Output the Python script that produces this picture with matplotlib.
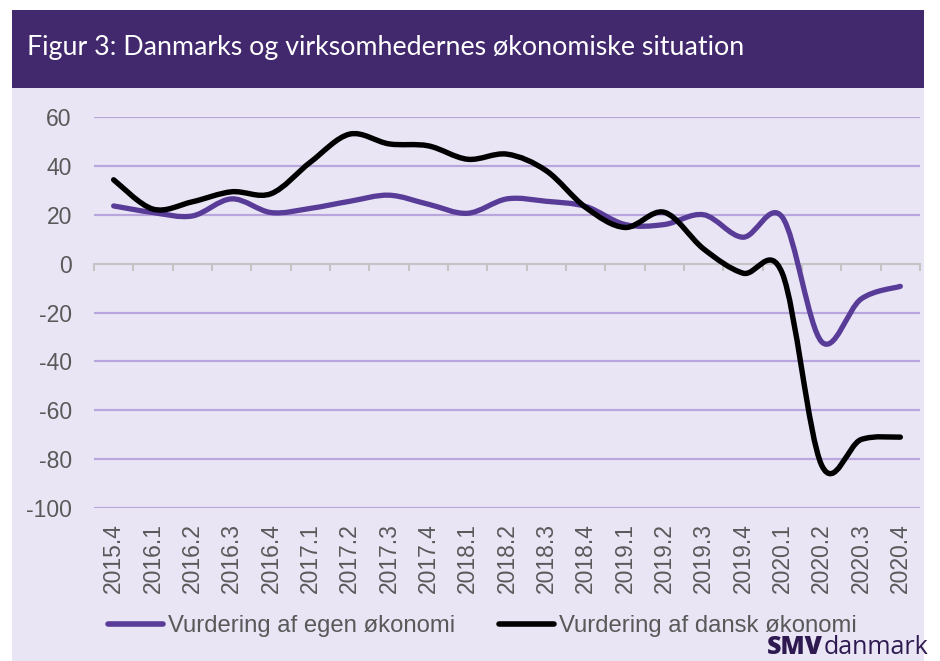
import matplotlib
matplotlib.use('Agg')
import matplotlib.pyplot as plt
from matplotlib.path import Path
from matplotlib.patches import PathPatch, Rectangle
from matplotlib.lines import Line2D
import numpy as np

# ---------------- data ----------------
quarters = ['2015.4', '2016.1', '2016.2', '2016.3', '2016.4', '2017.1', '2017.2',
            '2017.3', '2017.4', '2018.1', '2018.2', '2018.3', '2018.4', '2019.1',
            '2019.2', '2019.3', '2019.4', '2020.1', '2020.2', '2020.3', '2020.4']
egen = [23.6, 20.9, 19.5, 26.5, 20.9, 22.6, 25.5, 28.0, 24.3, 20.6, 26.5,
        25.5, 23.4, 16.0, 16.0, 20.0, 10.8, 19.0, -32.0, -14.5, -9.3]
dansk = [34.3, 22.3, 25.3, 29.4, 28.6, 41.5, 53.0, 49.0, 48.2, 42.7, 44.8,
         38.0, 23.0, 14.8, 21.0, 6.0, -3.9, -4.0, -82.5, -72.0, -71.0]
series_names = ['Vurdering af egen økonomi', 'Vurdering af dansk økonomi']
yticks = [60, 40, 20, 0, -20, -40, -60, -80, -100]
title = 'Figur 3: Danmarks og virksomhedernes økonomiske situation'

# ---------------- style ----------------
BG = '#E9E5F5'
TITLE_BG = '#42296E'
GRID = '#B9A6DD'
AXIS = '#C4C4C4'
TXT = '#595959'
PURPLE = '#583C98'
BLACK = '#000000'
LOGO = '#2E1A50'

plt.rcParams['font.family'] = ['Liberation Sans', 'DejaVu Sans']

W, H = 940, 661
fig = plt.figure(figsize=(W / 100, H / 100), dpi=100)
fig.patch.set_facecolor('white')


def fx(px):
    return px / W


def fy(py):
    return 1 - py / H


# panel + title bar
fig.patches.append(Rectangle((fx(12), fy(661)), fx(924) - fx(12), fy(88) - fy(661),
                             transform=fig.transFigure, facecolor=BG, edgecolor='none', zorder=-2))
fig.patches.append(Rectangle((fx(12), fy(88)), fx(924) - fx(12), fy(10) - fy(88),
                             transform=fig.transFigure, facecolor=TITLE_BG, edgecolor='none', zorder=-2))
fig.text(fx(27), fy(48), title, color='white', fontsize=19.3, family=['Lato', 'DejaVu Sans'],
         va='center', ha='left')

# axes
ax = fig.add_axes([fx(94), fy(508), fx(920) - fx(94), fy(117) - fy(508)])
ax.set_facecolor('none')
n = len(quarters)
ax.set_xlim(-0.5, n - 0.5)
ax.set_ylim(-100, 60)
for s in ax.spines.values():
    s.set_visible(False)
ax.spines['bottom'].set_visible(True)
ax.spines['bottom'].set_position(('data', 0))
ax.spines['bottom'].set_color(AXIS)
ax.spines['bottom'].set_linewidth(1.5)
ax.spines['bottom'].set_zorder(2)
ax.set_xticks(np.arange(n + 1) - 0.5)
ax.set_xticklabels([])
ax.tick_params(axis='x', direction='out', length=5, width=1.5, color=AXIS)
ax.set_yticks(yticks)
ax.set_yticklabels([str(v) for v in yticks])
ax.tick_params(axis='y', length=0, pad=16, labelsize=16.5, labelcolor=TXT)

for v in yticks:
    if v != 0:
        ax.axhline(v, color=GRID, lw=1.6, zorder=1)

for i, q in enumerate(quarters):
    ax.text(i, -0.038, q, transform=ax.get_xaxis_transform(), rotation=90,
            ha='center', va='top', fontsize=16.5, color=TXT)


def smooth_path(xs, ys):
    """Smoothed line (Catmull-Rom style cubic Bezier segments)."""
    pts = np.column_stack([xs, ys]).astype(float)
    m = len(pts)
    verts = [pts[0]]
    codes = [Path.MOVETO]
    for i in range(m - 1):
        p0 = pts[i - 1] if i > 0 else pts[i]
        p1 = pts[i]
        p2 = pts[i + 1]
        p3 = pts[i + 2] if i + 2 < m else pts[i + 1]
        c1 = p1 + (p2 - p0) / 6.0
        c2 = p2 - (p3 - p1) / 6.0
        verts += [c1, c2, p2]
        codes += [Path.CURVE4] * 3
    return Path(verts, codes)


xs = np.arange(n)
for vals, col, lw, z in [(egen, PURPLE, 3.8, 4), (dansk, BLACK, 3.9, 5)]:
    patch = PathPatch(smooth_path(xs, vals), facecolor='none', edgecolor=col, lw=lw,
                      capstyle='round', joinstyle='round', zorder=z)
    ax.add_patch(patch)

handles = [Line2D([], [], color=PURPLE, lw=4, solid_capstyle='round'),
           Line2D([], [], color=BLACK, lw=4, solid_capstyle='round')]
fig.legend(handles=handles, labels=series_names, loc='center left',
           bbox_to_anchor=(fx(108), fy(626)), ncol=2, frameon=False, fontsize=17.2,
           handlelength=2.3, handletextpad=0.2, columnspacing=1.85, borderpad=0,
           borderaxespad=0, labelcolor=TXT)

# logo
fig.canvas.draw()
r = fig.canvas.get_renderer()
t2 = fig.text(fx(928), fy(660), 'danmark', color=LOGO, fontsize=18,
              family=['Open Sans', 'DejaVu Sans'], ha='right', va='bottom')
bb = t2.get_window_extent(renderer=r)
fig.text(bb.x0 / W, fy(660), 'SMV', color=LOGO, fontsize=18, fontweight='heavy',
         family=['Open Sans', 'DejaVu Sans'], ha='right', va='bottom')

fig.savefig('out.png', dpi=100, facecolor='white')
